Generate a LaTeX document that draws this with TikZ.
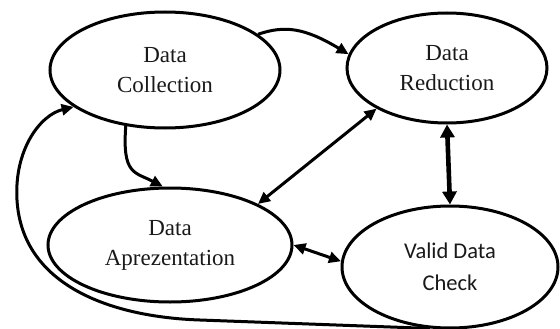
\documentclass[tikz,border=0pt]{standalone}
\usepackage{fontspec}
\setmainfont{Liberation Serif}
\newfontfamily\calibrilike{Carlito}
\usetikzlibrary{arrows.meta,shapes.geometric}
\begin{document}
\begin{tikzpicture}[x=1pt,y=1pt,
  stage/.style={ellipse,draw,line width=3pt,inner sep=0pt,align=center,
    text=black!90,font=\fontsize{23}{30}\selectfont},
  arr/.style={line width=3pt,-{Triangle[length=12pt,width=11pt]}},
  darr/.style={line width=3pt,{Triangle[length=12pt,width=11pt]}-{Triangle[length=12pt,width=11pt]}},
  thickarr/.style={line width=4.6pt,{Triangle[length=13pt,width=14pt]}-{Triangle[length=13pt,width=14pt]}}]
\useasboundingbox (0,0) rectangle (560,-329);
\node[stage,minimum width=230pt,minimum height=116pt] (dc) at (165,-70) {Data\\Collection};
\node[stage,minimum width=200pt,minimum height=110pt] (dr) at (447,-68) {Data\\Reduction};
\node[stage,minimum width=244pt,minimum height=114pt] (da) at (170,-245) {Data\\Aprezentation};
\node[stage,minimum width=216pt,minimum height=122pt,font=\calibrilike\fontsize{22.5}{32}\selectfont] (vdc) at (450,-267) {Valid Data\\Check};
% connectors
\draw[arr] (dc.21) .. controls (285,-25) and (305,-28) .. (dr.172);
\draw[arr] (dc.235) .. controls (122,-175) and (135,-172) .. (da.97);
\draw[darr] (da.25) -- (dr.210);
\draw[thickarr] (dr.south) -- (vdc.north);
\draw[darr] (da.east) -- (vdc.177);
\coordinate (b1) at (200,-320);
\coordinate (b2) at (17,-200);
\draw[arr] (vdc.252) -- (b1) .. controls (110,-317) and (22,-285) .. (b2)
  .. controls (14,-150) and (40,-115) .. (dc.202);
\end{tikzpicture}
\end{document}
